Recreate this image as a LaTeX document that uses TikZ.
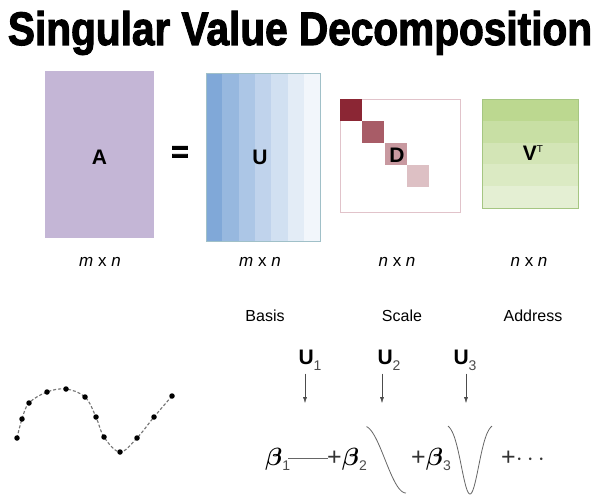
\documentclass[tikz,border=0pt]{standalone}
\usepackage{fontspec}
\usepackage{amsmath}
\usetikzlibrary{arrows.meta}
\newfontfamily\condfont{Liberation Sans}
\newfontfamily\titlefont[FakeBold=2.5]{Liberation Sans Bold}

\definecolor{apurple}{RGB}{196,182,214}
\definecolor{ublue}{RGB}{128,168,216}
\definecolor{uedge}{RGB}{160,192,200}
\definecolor{dred}{RGB}{139,38,52}
\definecolor{dedge}{RGB}{225,195,202}
\definecolor{vgreen}{RGB}{188,216,144}
\definecolor{vedge}{RGB}{165,198,130}

\newcommand{\usub}[1]{U\raisebox{-6pt}{\mdseries\color{black!70}\fontsize{14}{14}\selectfont #1}}
\newcommand{\bsub}[1]{{\boldmath$\beta$}\raisebox{-5pt}{\condfont\color{black!70}\fontsize{14}{14}\selectfont #1}}
\newcommand{\plus}{{\condfont\color{black!80}+}}

\begin{document}
\begin{tikzpicture}[x=1pt,y=-1pt,
    dot/.style={circle, fill=black, inner sep=0pt, minimum size=5.5pt},
    lbl/.style={font=\condfont\fontsize{16}{18}\selectfont},
    dim/.style={font=\condfont\fontsize{17}{18}\selectfont},
    big/.style={font=\condfont\bfseries\fontsize{21}{24}\selectfont},
    term/.style={anchor=base west, inner sep=0pt, font=\fontsize{25}{28}\selectfont},
    curve/.style={gray!80!black, thick},
    arr/.style={-{Latex[length=6pt,width=4pt]}, thin, black!70}]
    \useasboundingbox[fill=white] (0,0) rectangle (599,502);

    % Title
    \node[anchor=base, inner sep=0pt] (title) at (300,45)
        {\resizebox{584pt}{34pt}{\titlefont Singular Value Decomposition}};

    % A = U D V^T
    \fill[apurple] (45,71) rectangle (154,238);
    \node[big] (mA) at (99.5,157) {A};
    \node[font=\titlefont\fontsize{30}{30}\selectfont] (eq) at (180,154) {=};

    % U: 7 columns fading out
    \foreach \i/\p in {0/100,1/82,2/65,3/50,4/36,5/22,6/10}
        \fill[ublue!\p!white] ({206+\i*16.3},73) rectangle ({206+(\i+1)*16.3},241);
    \draw[uedge] (206,73) rectangle (320,241);
    \node[big] (mU) at (260,157) {U};

    % D: diagonal only
    \draw[dedge] (340,99) rectangle (460,212);
    \foreach \i/\p in {0/100,1/75,2/47,3/29}
        \fill[dred!\p!white] ({340+\i*22.3},{99+\i*22}) rectangle +(22,22);
    \node[big] (mD) at (397,155) {D};

    % V^T: 5 rows fading out
    \foreach \i/\p in {0/100,1/82,2/66,3/54,4/40}
        \fill[vgreen!\p!white] (482,{99+\i*21.8}) rectangle (578,{99+(\i+1)*21.8});
    \draw[vedge] (482,99) rectangle (578,208);
    \node[big] (mV) at (533,153) {V\raisebox{8pt}{\mdseries\fontsize{10}{10}\selectfont T}};

    % sizes
    \node[dim] (sA) at (100,262) {\itshape m\upshape\ x \itshape n};
    \node[dim] (sU) at (260,262) {\itshape m\upshape\ x \itshape n};
    \node[dim] (sD) at (397,262) {\itshape n\upshape\ x \itshape n};
    \node[dim] (sV) at (529,262) {\itshape n\upshape\ x \itshape n};

    % Basis / Scale / Address
    \node[lbl] (basis) at (265,316) {Basis};
    \node[lbl] (scale) at (402,316) {Scale};
    \node[lbl] (addr) at (533,316) {Address};

    \node[big, anchor=base west] (u1) at (295,364) {\usub{1}};
    \node[big, anchor=base west] (u2) at (374,364) {\usub{2}};
    \node[big, anchor=base west] (u3) at (450,364) {\usub{3}};
    \coordinate (e1) at (305,403);
    \coordinate (e2) at (382,403);
    \coordinate (e3) at (466,403);
    \draw[arr] (u1.south -| e1) -- (e1);
    \draw[arr] (u2.south -| e2) -- (e2);
    \draw[arr] (u3.south -| e3) -- (e3);

    % beta_1 const + beta_2 half wave + beta_3 dip + ...
    \node[term] (b1) at (265,465) {\bsub{1}};
    \node[term] (b2) at (327,465) {\plus\bsub{2}};
    \node[term] (b3) at (411,465) {\plus\bsub{3}};
    \node[term] (b4) at (501,465) {\plus{\color{black!80}$\cdots$}};
    \draw[curve] (288,458) -- (328,458);
    \draw[curve] plot[domain=0.06:1, samples=40]
        ({364+42*\x},{426+67*(1-cos(180*\x))/2});
    \draw[curve] plot[domain=-1.8:1.8, samples=60]
        ({470+\x*22/1.8},{494-70.7*(1-exp(0-(\x)*(\x)))});

    % sampled signal
    \draw[dash pattern=on 3pt off 2pt, black!55, line width=1.1pt] plot[smooth, tension=0.6] coordinates {(17,438) (22,419) (29,403) (47,392) (66,389) (85,397) (96,417) (104,437) (120,452) (137,438) (154,417) (172,396)};
    \foreach \x/\y [count=\k] in {17/438,22/419,29/403,47/392,66/389,85/397,96/417,104/437,120/452,137/438,154/417,172/396}
        \node[dot] (d\k) at (\x,\y) {};
\end{tikzpicture}
\end{document}
